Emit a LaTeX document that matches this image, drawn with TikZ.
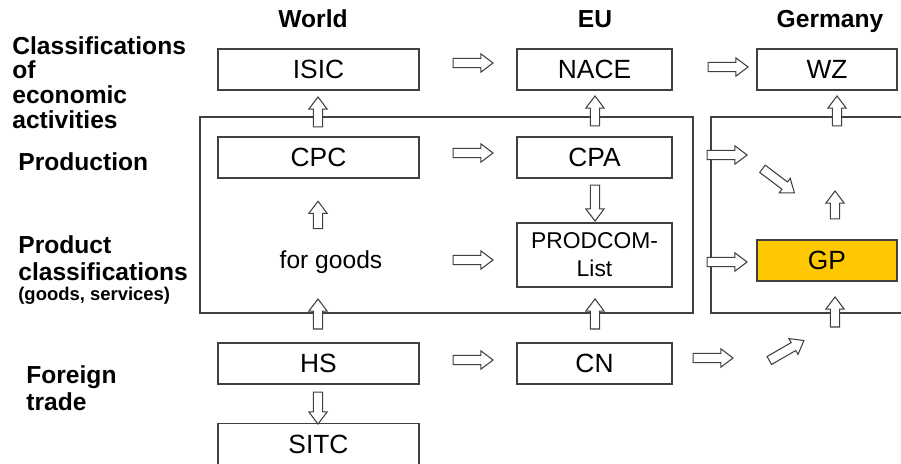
\documentclass[tikz,border=0pt]{standalone}
\usepackage{fontspec}
\setmainfont{Liberation Sans}
\usetikzlibrary{shapes.arrows}
\definecolor{boxline}{RGB}{64,64,64}
\definecolor{gpyellow}{RGB}{255,200,0}

\begin{document}
\begin{tikzpicture}[x=0.02cm,y=-0.02cm,
    every node/.style={font=\fontsize{14}{16}\selectfont},
    clsbox/.style={draw=boxline, line width=0.75pt, minimum height=0.82cm, inner sep=0pt, align=center,
        font=\fontsize{15}{16}\selectfont},
    worldbox/.style={clsbox, minimum width=4.02cm},
    eubox/.style={clsbox, minimum width=3.1cm},
    debox/.style={clsbox, minimum width=2.8cm},
    rowlabel/.style={anchor=west, align=left, inner sep=0pt, font=\fontsize{14}{14}\selectfont\bfseries},
    colhead/.style={font=\fontsize{14}{16}\selectfont\bfseries},
    blockarrow/.style={single arrow, draw=boxline, line width=0.6pt, fill=white, inner sep=0pt,
        inner ysep=2.3pt, single arrow head extend=2.6pt, single arrow tip angle=74, minimum height=0.8cm},
    frame/.style={draw=boxline, line width=0.75pt}]
    \useasboundingbox (0,0) rectangle (901,463);
    \clip (0,0) rectangle (901,463);

    % Column heads
    \node[colhead] (world) at (313,19) {World};
    \node[colhead] (eu) at (595,19) {EU};
    \node[colhead] (germany) at (830,21) {Germany};

    % Row labels
    \node[rowlabel] (econ) at (12,82.5) {Classifications\\of\\economic\\activities};
    \node[rowlabel] (prodn) at (18,162) {Production};
    \node[rowlabel, font=\fontsize{14}{15.5}\selectfont\bfseries] (prodcls) at (18,258) {Product\\classifications};
    \node[rowlabel, font=\fontsize{10.5}{12}\selectfont\bfseries] (prodsub) at (18,296) {(goods, services)};
    \node[rowlabel, font=\fontsize{14}{15.5}\selectfont\bfseries] (trade) at (26,388.5) {Foreign\\trade};

    % Frames
    \draw[frame] (200,117) rectangle (693,313);
    \draw[frame] (905,117) -- (711,117) -- (711,313) -- (905,313);

    % Classifications
    \node[worldbox] (isic) at (318.5,69.5) {ISIC};
    \node[eubox] (nace) at (594.5,69.5) {NACE};
    \node[debox] (wz) at (827,69.5) {WZ};
    \node[worldbox] (cpc) at (318.5,157.5) {CPC};
    \node[eubox] (cpa) at (594.5,157.5) {CPA};
    \node (goods) at (331,262) {for goods};
    \node[eubox, minimum height=1.28cm, font=\fontsize{13}{16}\selectfont] (prodcom) at (594.5,255) {PRODCOM-\\List};
    \node[debox, fill=gpyellow] (gp) at (827,260.5) {GP};
    \node[worldbox] (hs) at (318.5,363.5) {HS};
    \node[eubox] (cn) at (594.5,363.5) {CN};
    \node[worldbox] (sitc) at (318.5,444) {SITC};

    % Arrows to the right
    \node[blockarrow] (isic-nace) at (470,63) {};
    \node[blockarrow] (nace-wz) at (725,67) {};
    \node[blockarrow] (cpc-cpa) at (470,153) {};
    \node[blockarrow] (goods-prodcom) at (470,260) {};
    \node[blockarrow] (cpa-de) at (724,155) {};
    \node[blockarrow] (prodcom-gp) at (724,262) {};
    \node[blockarrow] (hs-cn) at (470,360) {};
    \node[blockarrow] (cn-de) at (710,358) {};

    % Arrows up
    \node[blockarrow, rotate=90, minimum height=0.6cm] (cpc-isic) at (318,115) {};
    \node[blockarrow, rotate=90, minimum height=0.6cm] (cpa-nace) at (595,114) {};
    \node[blockarrow, rotate=90, minimum height=0.6cm] (de-wz) at (837,114) {};
    \node[blockarrow, rotate=90, minimum height=0.55cm] (goods-cpc) at (318,218) {};
    \node[blockarrow, rotate=90, minimum height=0.56cm] (gp-up) at (835,208) {};
    \node[blockarrow, rotate=90, minimum height=0.6cm] (hs-goods) at (318,317) {};
    \node[blockarrow, rotate=90, minimum height=0.6cm] (cn-prodcom) at (595,317) {};
    \node[blockarrow, rotate=90, minimum height=0.6cm] (de-gp) at (835,315) {};

    % Arrows down
    \node[blockarrow, rotate=-90, minimum height=0.72cm] (cpa-prodcom) at (595,200) {};
    \node[blockarrow, rotate=-90, minimum height=0.64cm] (hs-sitc) at (318,405) {};

    % Arrows at a slant
    \node[blockarrow, rotate=-37] (cpa-gp) at (776,179) {};
    \node[blockarrow, rotate=30] (cn-gp) at (784,352) {};
\end{tikzpicture}
\end{document}
